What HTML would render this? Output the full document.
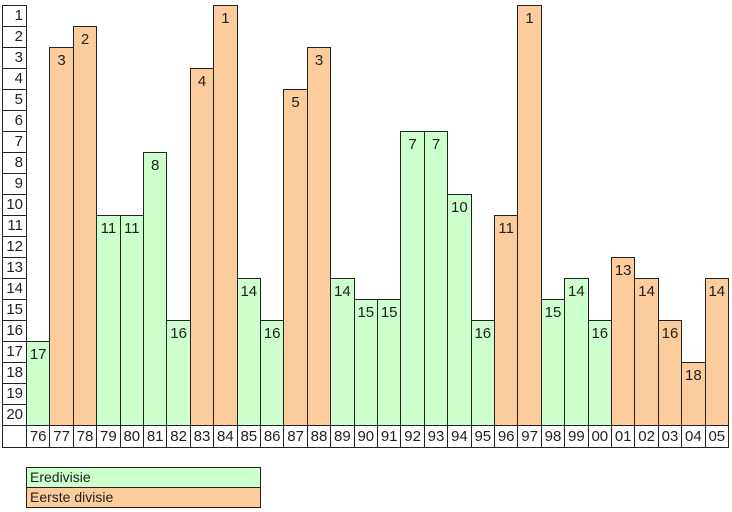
<!DOCTYPE html>
<html><head><meta charset="utf-8"><style>
body{margin:0;width:732px;height:512px;background:#fff;position:relative;overflow:hidden;font-family:"Liberation Sans",Arial,sans-serif;font-size:15px;color:#222}
div{position:absolute;box-sizing:border-box;border:1px solid #222}
.r{left:2px;width:25px;height:22px;text-align:right;padding-right:3px;line-height:20px;background:#fff}
.y{top:425px;height:23px;width:24.4px;text-align:center;line-height:21px;background:#fff}
.g{background:#ccffcc;width:24.4px;text-align:center;padding-top:5px;line-height:16px}
.o{background:#fccc9c;width:24.4px;text-align:center;padding-top:5px;line-height:16px}
.l{left:26px;width:235px;height:21px;line-height:19px;padding-left:3px;font-size:14px}
</style></head><body>
<div class="r" style="top:5px">1</div>
<div class="r" style="top:26px">2</div>
<div class="r" style="top:47px">3</div>
<div class="r" style="top:68px">4</div>
<div class="r" style="top:89px">5</div>
<div class="r" style="top:110px">6</div>
<div class="r" style="top:131px">7</div>
<div class="r" style="top:152px">8</div>
<div class="r" style="top:173px">9</div>
<div class="r" style="top:194px">10</div>
<div class="r" style="top:215px">11</div>
<div class="r" style="top:236px">12</div>
<div class="r" style="top:257px">13</div>
<div class="r" style="top:278px">14</div>
<div class="r" style="top:299px">15</div>
<div class="r" style="top:320px">16</div>
<div class="r" style="top:341px">17</div>
<div class="r" style="top:362px">18</div>
<div class="r" style="top:383px">19</div>
<div class="r" style="top:404px">20</div>
<div class="r" style="top:425px;height:23px"></div>

<div class="g" style="left:26px;top:341px;height:85px">17</div>
<div class="o" style="left:49.4px;top:47px;height:379px">3</div>
<div class="o" style="left:72.8px;top:26px;height:400px">2</div>
<div class="g" style="left:96.2px;top:215px;height:211px">11</div>
<div class="g" style="left:119.6px;top:215px;height:211px">11</div>
<div class="g" style="left:143px;top:152px;height:274px">8</div>
<div class="g" style="left:166.4px;top:320px;height:106px">16</div>
<div class="o" style="left:189.8px;top:68px;height:358px">4</div>
<div class="o" style="left:213.2px;top:5px;height:421px">1</div>
<div class="g" style="left:236.6px;top:278px;height:148px">14</div>
<div class="g" style="left:260px;top:320px;height:106px">16</div>
<div class="o" style="left:283.4px;top:89px;height:337px">5</div>
<div class="o" style="left:306.8px;top:47px;height:379px">3</div>
<div class="g" style="left:330.2px;top:278px;height:148px">14</div>
<div class="g" style="left:353.6px;top:299px;height:127px">15</div>
<div class="g" style="left:377px;top:299px;height:127px">15</div>
<div class="g" style="left:400.4px;top:131px;height:295px">7</div>
<div class="g" style="left:423.8px;top:131px;height:295px">7</div>
<div class="g" style="left:447.2px;top:194px;height:232px">10</div>
<div class="g" style="left:470.6px;top:320px;height:106px">16</div>
<div class="o" style="left:494px;top:215px;height:211px">11</div>
<div class="o" style="left:517.4px;top:5px;height:421px">1</div>
<div class="g" style="left:540.8px;top:299px;height:127px">15</div>
<div class="g" style="left:564.2px;top:278px;height:148px">14</div>
<div class="g" style="left:587.6px;top:320px;height:106px">16</div>
<div class="o" style="left:611px;top:257px;height:169px">13</div>
<div class="o" style="left:634.4px;top:278px;height:148px">14</div>
<div class="o" style="left:657.8px;top:320px;height:106px">16</div>
<div class="o" style="left:681.2px;top:362px;height:64px">18</div>
<div class="o" style="left:704.6px;top:278px;height:148px">14</div>

<div class="y" style="left:26px">76</div>
<div class="y" style="left:49.4px">77</div>
<div class="y" style="left:72.8px">78</div>
<div class="y" style="left:96.2px">79</div>
<div class="y" style="left:119.6px">80</div>
<div class="y" style="left:143px">81</div>
<div class="y" style="left:166.4px">82</div>
<div class="y" style="left:189.8px">83</div>
<div class="y" style="left:213.2px">84</div>
<div class="y" style="left:236.6px">85</div>
<div class="y" style="left:260px">86</div>
<div class="y" style="left:283.4px">87</div>
<div class="y" style="left:306.8px">88</div>
<div class="y" style="left:330.2px">89</div>
<div class="y" style="left:353.6px">90</div>
<div class="y" style="left:377px">91</div>
<div class="y" style="left:400.4px">92</div>
<div class="y" style="left:423.8px">93</div>
<div class="y" style="left:447.2px">94</div>
<div class="y" style="left:470.6px">95</div>
<div class="y" style="left:494px">96</div>
<div class="y" style="left:517.4px">97</div>
<div class="y" style="left:540.8px">98</div>
<div class="y" style="left:564.2px">99</div>
<div class="y" style="left:587.6px">00</div>
<div class="y" style="left:611px">01</div>
<div class="y" style="left:634.4px">02</div>
<div class="y" style="left:657.8px">03</div>
<div class="y" style="left:681.2px">04</div>
<div class="y" style="left:704.6px">05</div>

<div class="l" style="top:467px;background:#ccffcc">Eredivisie</div>
<div class="l" style="top:487px;background:#fccc9c">Eerste divisie</div>
</body></html>
